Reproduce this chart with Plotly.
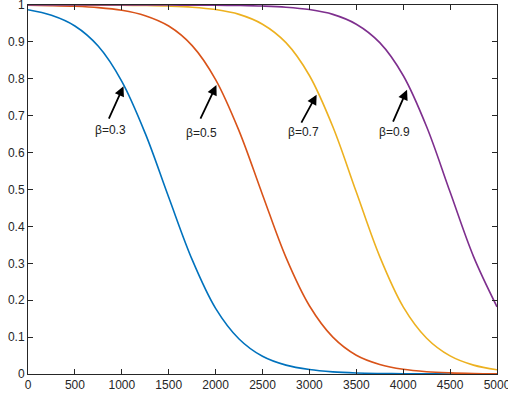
import plotly.graph_objects as go

x_vals = [0, 250, 500, 750, 1000, 1250, 1500, 1750, 2000, 2250, 2500,
          2750, 3000, 3250, 3500, 3750, 4000, 4250, 4500, 4750, 5000]

beta_03 = [0.987, 0.972, 0.943, 0.888, 0.793, 0.652, 0.479, 0.310, 0.178, 0.095, 0.048,
           0.024, 0.0120, 0.0058, 0.0028, 0.0014, 0.0007, 0.0004, 0.0002, 0.0001, 0.0]
beta_05 = [0.9992, 0.9983, 0.9965, 0.9929, 0.9856, 0.971, 0.943, 0.890, 0.798, 0.659, 0.486,
           0.316, 0.185, 0.100, 0.051, 0.026, 0.0128, 0.0063, 0.0031, 0.0015, 0.0007]
beta_07 = [1.0, 0.9999, 0.9998, 0.9997, 0.9993, 0.9986, 0.9971, 0.9941, 0.9876, 0.9746, 0.948,
           0.898, 0.809, 0.670, 0.493, 0.318, 0.182, 0.097, 0.049, 0.024, 0.0116]
beta_09 = [1.0, 1.0, 1.0, 1.0, 1.0, 0.9999, 0.9998, 0.9997, 0.9993, 0.9986, 0.9971,
           0.9941, 0.9876, 0.9746, 0.948, 0.898, 0.809, 0.670, 0.493, 0.318, 0.182]

series = [("β=0.3", beta_03, "#0072BD"),
          ("β=0.5", beta_05, "#D95319"),
          ("β=0.7", beta_07, "#EDB120"),
          ("β=0.9", beta_09, "#7E2F8E")]

# label annotations: (text, head_x, head_y, tail_x, tail_y, text_x, text_y)
labels = [("β=0.3", 1018, 0.780, 855, 0.688, 884, 0.661),
          ("β=0.5", 2009, 0.783, 1831, 0.688, 1849, 0.653),
          ("β=0.7", 3077, 0.757, 2906, 0.677, 2934, 0.656),
          ("β=0.9", 4041, 0.770, 3885, 0.680, 3909, 0.656)]

x_ticks = [0, 500, 1000, 1500, 2000, 2500, 3000, 3500, 4000, 4500, 5000]
y_ticks = [0, 0.1, 0.2, 0.3, 0.4, 0.5, 0.6, 0.7, 0.8, 0.9, 1]
y_tick_text = ["0", "0.1", "0.2", "0.3", "0.4", "0.5", "0.6", "0.7", "0.8", "0.9", "1"]

FONT = "Liberation Sans, Arial, sans-serif"

fig = go.Figure()
for name, ys, col in series:
    fig.add_trace(go.Scatter(x=x_vals, y=ys, mode="lines", name=name,
                             line=dict(color=col, width=1.6, shape="spline", smoothing=1.0)))

annots = []
for text, hx, hy, tx, ty, lx, ly in labels:
    annots.append(dict(x=hx, y=hy, ax=tx, ay=ty, xref="x", yref="y", axref="x", ayref="y",
                       showarrow=True, arrowhead=2, arrowsize=1.1, arrowwidth=1.8,
                       arrowcolor="#000000", text=""))
    annots.append(dict(x=lx, y=ly, xref="x", yref="y", text=text, showarrow=False,
                       font=dict(size=12, color="#222222", family=FONT)))

axis_common = dict(showline=True, linecolor="#262626", linewidth=1, mirror="ticks",
                   ticks="inside", ticklen=5, tickcolor="#262626", tickwidth=1,
                   showgrid=False, zeroline=False, automargin=False,
                   ticklabeloverflow="allow",
                   tickfont=dict(size=12, color="#262626", family=FONT))

fig.update_layout(
    width=508, height=401,
    margin=dict(l=28, r=11, t=5, b=27),
    paper_bgcolor="white", plot_bgcolor="white",
    showlegend=False,
    annotations=annots,
    xaxis=dict(range=[0, 5000], tickvals=x_ticks, **axis_common),
    yaxis=dict(range=[0, 1], tickvals=y_ticks, ticktext=y_tick_text, **axis_common),
)

fig.write_html("out.html", config={"displayModeBar": False},
               post_script="document.body.style.margin='0';document.body.style.overflow='hidden';")
